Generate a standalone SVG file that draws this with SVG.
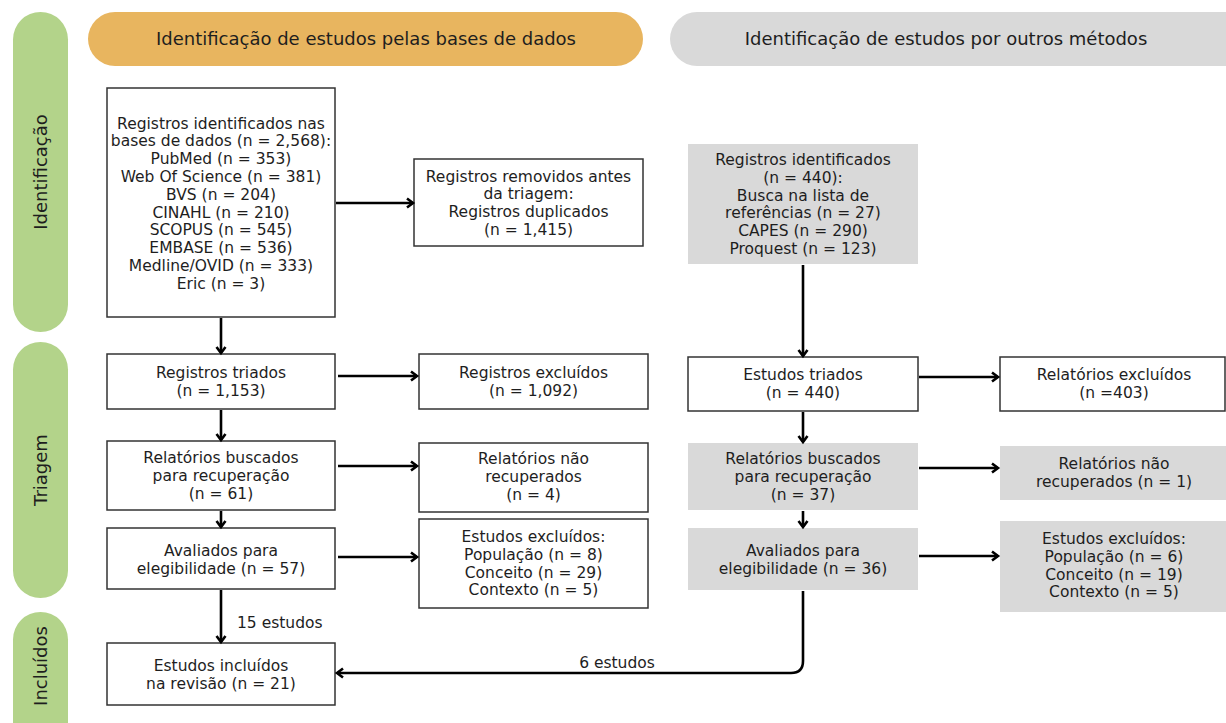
<svg xmlns="http://www.w3.org/2000/svg" width="1226" height="723" viewBox="0 0 1226 723">
<style>
.box{fill:#fff;stroke:#333;stroke-width:1.5}
.gbox{fill:#d9d9d9;stroke:none}
.t{font-family:"DejaVu Sans","Liberation Sans",Arial,sans-serif;font-size:15.5px;fill:#1e1e1e;text-anchor:middle}
.h{font-family:"DejaVu Sans","Liberation Sans",Arial,sans-serif;font-size:18px;fill:#1e1e1e;text-anchor:middle}
.side{font-family:"DejaVu Sans","Liberation Sans",Arial,sans-serif;font-size:18px;fill:#1e1e1e;text-anchor:middle}
.c{fill:none;stroke:#000;stroke-width:2.6}
</style>
<defs>
<marker id="ah" markerWidth="12" markerHeight="12" refX="9" refY="6" orient="auto" markerUnits="userSpaceOnUse">
<path d="M3,1.5 L9,6 L3,10.5" fill="none" stroke="#000" stroke-width="2.6" stroke-linejoin="miter"/>
</marker>
</defs>

<g id="side-identificacao">
<rect x="13" y="12" width="55" height="320" rx="27.5" fill="#b3d38a"/>
<text class="side" transform="translate(47,172) rotate(-90)">Identificação</text>
</g>
<g id="side-triagem">
<rect x="13" y="342" width="55" height="256" rx="27.5" fill="#b3d38a"/>
<text class="side" transform="translate(47,470) rotate(-90)">Triagem</text>
</g>
<g id="side-incluidos">
<rect x="13" y="612" width="55" height="140" rx="27.5" fill="#b3d38a"/>
<text class="side" transform="translate(47,666) rotate(-90)">Incluídos</text>
</g>

<g id="header-bases">
<rect x="88" y="12" width="555" height="54" rx="27" fill="#e8b55f"/>
<text class="h" x="366" y="45">Identificação de estudos pelas bases de dados</text>
</g>
<g id="header-outros">
<rect x="670" y="12" width="600" height="54" rx="27" fill="#d9d9d9"/>
<text class="h" x="946" y="45">Identificação de estudos por outros métodos</text>
</g>

<g id="n-identificados">
<rect class="box" x="107" y="88" width="228" height="229"/>
<text class="t" y="128.5"><tspan x="221">Registros identificados nas</tspan><tspan x="221" dy="17.8">bases de dados (n = 2,568):</tspan><tspan x="221" dy="17.8">PubMed (n = 353)</tspan><tspan x="221" dy="17.8">Web Of Science (n = 381)</tspan><tspan x="221" dy="17.8">BVS (n = 204)</tspan><tspan x="221" dy="17.8">CINAHL (n = 210)</tspan><tspan x="221" dy="17.8">SCOPUS (n = 545)</tspan><tspan x="221" dy="17.8">EMBASE (n = 536)</tspan><tspan x="221" dy="17.8">Medline/OVID (n = 333)</tspan><tspan x="221" dy="17.8">Eric (n = 3)</tspan></text>
</g>
<g id="n-removidos">
<rect class="box" x="414" y="159" width="229" height="87"/>
<text class="t" y="181.5"><tspan x="528.5">Registros removidos antes</tspan><tspan x="528.5" dy="17.8">da triagem:</tspan><tspan x="528.5" dy="17.8">Registros duplicados</tspan><tspan x="528.5" dy="17.8">(n = 1,415)</tspan></text>
</g>
<g id="n-triados">
<rect class="box" x="107" y="354" width="228" height="55"/>
<text class="t" y="378"><tspan x="221">Registros triados</tspan><tspan x="221" dy="17.8">(n = 1,153)</tspan></text>
</g>
<g id="n-excluidos">
<rect class="box" x="419" y="354" width="229" height="55"/>
<text class="t" y="378"><tspan x="533.5">Registros excluídos</tspan><tspan x="533.5" dy="17.8">(n = 1,092)</tspan></text>
</g>
<g id="n-buscados">
<rect class="box" x="107" y="441" width="228" height="69"/>
<text class="t" y="463"><tspan x="221">Relatórios buscados</tspan><tspan x="221" dy="17.8">para recuperação</tspan><tspan x="221" dy="17.8">(n = 61)</tspan></text>
</g>
<g id="n-naorecuperados">
<rect class="box" x="419" y="443" width="229" height="69"/>
<text class="t" y="464"><tspan x="533.5">Relatórios não</tspan><tspan x="533.5" dy="17.8">recuperados</tspan><tspan x="533.5" dy="17.8">(n = 4)</tspan></text>
</g>
<g id="n-avaliados">
<rect class="box" x="107" y="528" width="228" height="61"/>
<text class="t" y="556"><tspan x="221">Avaliados para</tspan><tspan x="221" dy="17.8">elegibilidade (n = 57)</tspan></text>
</g>
<g id="n-estexcluidos">
<rect class="box" x="419" y="519" width="229" height="89"/>
<text class="t" y="542"><tspan x="533.5">Estudos excluídos:</tspan><tspan x="533.5" dy="17.8">População (n = 8)</tspan><tspan x="533.5" dy="17.8">Conceito (n = 29)</tspan><tspan x="533.5" dy="17.8">Contexto (n = 5)</tspan></text>
</g>
<g id="n-incluidos">
<rect class="box" x="107" y="643" width="228" height="62"/>
<text class="t" y="671"><tspan x="221">Estudos incluídos</tspan><tspan x="221" dy="17.8">na revisão (n = 21)</tspan></text>
</g>

<g id="o-identificados">
<rect class="gbox" x="688" y="144" width="230" height="120"/>
<text class="t" y="165"><tspan x="803">Registros identificados</tspan><tspan x="803" dy="17.8">(n = 440):</tspan><tspan x="803" dy="17.8">Busca na lista de</tspan><tspan x="803" dy="17.8">referências (n = 27)</tspan><tspan x="803" dy="17.8">CAPES (n = 290)</tspan><tspan x="803" dy="17.8">Proquest (n = 123)</tspan></text>
</g>
<g id="o-triados">
<rect class="box" x="688" y="357" width="230" height="54"/>
<text class="t" y="380"><tspan x="803">Estudos triados</tspan><tspan x="803" dy="17.8">(n = 440)</tspan></text>
</g>
<g id="o-excluidos">
<rect class="box" x="1000" y="357" width="225" height="54"/>
<text class="t" y="380"><tspan x="1114">Relatórios excluídos</tspan><tspan x="1114" dy="17.8">(n =403)</tspan></text>
</g>
<g id="o-buscados">
<rect class="gbox" x="688" y="443" width="230" height="67"/>
<text class="t" y="464"><tspan x="803">Relatórios buscados</tspan><tspan x="803" dy="17.8">para recuperação</tspan><tspan x="803" dy="17.8">(n = 37)</tspan></text>
</g>
<g id="o-naorecuperados">
<rect class="gbox" x="1000" y="446" width="226" height="54"/>
<text class="t" y="469"><tspan x="1114">Relatórios não</tspan><tspan x="1114" dy="17.8">recuperados (n = 1)</tspan></text>
</g>
<g id="o-avaliados">
<rect class="gbox" x="688" y="528" width="230" height="62"/>
<text class="t" y="556"><tspan x="803">Avaliados para</tspan><tspan x="803" dy="17.8">elegibilidade (n = 36)</tspan></text>
</g>
<g id="o-estexcluidos">
<rect class="gbox" x="1000" y="521" width="226" height="91"/>
<text class="t" y="544"><tspan x="1114">Estudos excluídos:</tspan><tspan x="1114" dy="17.8">População (n = 6)</tspan><tspan x="1114" dy="17.8">Conceito (n = 19)</tspan><tspan x="1114" dy="17.8">Contexto (n = 5)</tspan></text>
</g>

<g id="connectors">
<line class="c" x1="336" y1="203" x2="413" y2="203" marker-end="url(#ah)"/>
<line class="c" x1="221" y1="318" x2="221" y2="353" marker-end="url(#ah)"/>
<line class="c" x1="338" y1="376" x2="417" y2="376" marker-end="url(#ah)"/>
<line class="c" x1="221" y1="410" x2="221" y2="440" marker-end="url(#ah)"/>
<line class="c" x1="338" y1="466" x2="417" y2="466" marker-end="url(#ah)"/>
<line class="c" x1="221" y1="511" x2="221" y2="527" marker-end="url(#ah)"/>
<line class="c" x1="338" y1="557" x2="417" y2="557" marker-end="url(#ah)"/>
<line class="c" x1="221" y1="590" x2="221" y2="642" marker-end="url(#ah)"/>
<text class="t" x="237" y="627.5" style="text-anchor:start">15 estudos</text>

<line class="c" x1="803" y1="265" x2="803" y2="356" marker-end="url(#ah)"/>
<line class="c" x1="919" y1="377" x2="998" y2="377" marker-end="url(#ah)"/>
<line class="c" x1="803" y1="412" x2="803" y2="442" marker-end="url(#ah)"/>
<line class="c" x1="919" y1="468" x2="998" y2="468" marker-end="url(#ah)"/>
<line class="c" x1="803" y1="511" x2="803" y2="527" marker-end="url(#ah)"/>
<line class="c" x1="919" y1="556" x2="998" y2="556" marker-end="url(#ah)"/>
<path class="c" d="M803,591 L803,661 Q803,673 791,673 L337,673" marker-end="url(#ah)"/>
<text class="t" x="617" y="668">6 estudos</text>
</g>
</svg>
